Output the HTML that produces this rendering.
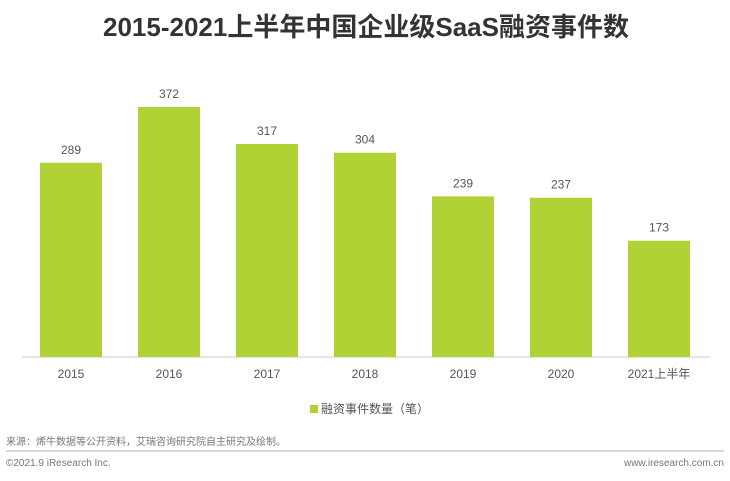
<!DOCTYPE html>
<html><head><meta charset="utf-8"><style>
body{margin:0;background:#fff;}
svg text{font-family:"Liberation Sans","Noto Sans CJK SC",sans-serif;}
</style></head><body>
<svg width="730" height="476" viewBox="0 0 730 476" xmlns="http://www.w3.org/2000/svg">
<text x="366" y="36" text-anchor="middle" font-size="26" font-weight="bold" fill="#333">2015-2021上半年中国企业级SaaS融资事件数</text>
<line x1="22" y1="357" x2="710" y2="357" stroke="#ddd" stroke-width="1.5"/>
<g id="bars"></g>
<rect x="310" y="405" width="8" height="8" fill="#b1d235"/>
<text x="321" y="413" font-size="12" fill="#555">融资事件数量（笔）</text>
<text x="6" y="445" font-size="10" fill="#777">来源：烯牛数据等公开资料，艾瑞咨询研究院自主研究及绘制。</text>
<line x1="6" y1="451" x2="724" y2="451" stroke="#ccc" stroke-width="1.5"/>
<text x="6" y="466" font-size="10" fill="#777">©2021.9 iResearch Inc.</text>
<text x="724" y="466" text-anchor="end" font-size="10" fill="#777">www.iresearch.com.cn</text>
</svg>
<script>
const categories=["2015","2016","2017","2018","2019","2020","2021上半年"];
const values=[289,372,317,304,239,237,173];
const g=document.getElementById('bars');
const NS='http://www.w3.org/2000/svg';
const base=357,scale=250/372,x0=71,step=98,bw=62;
function xPos(i){return x0+i*step;}
function yPos(v){return base-v*scale;}
categories.forEach((c,i)=>{
  const cx=xPos(i),y=yPos(values[i]);
  const r=document.createElementNS(NS,'rect');
  r.setAttribute('x',cx-bw/2);r.setAttribute('y',y);r.setAttribute('width',bw);r.setAttribute('height',base-y);r.setAttribute('fill','#b1d235');
  
  
  g.appendChild(r);
  const t=document.createElementNS(NS,'text');
  t.setAttribute('x',cx);t.setAttribute('y',y-9);t.setAttribute('text-anchor','middle');t.setAttribute('font-size','12');t.setAttribute('fill','#555');
  t.textContent=values[i];
  
  
  g.appendChild(t);
  const l=document.createElementNS(NS,'text');
  l.setAttribute('x',cx);l.setAttribute('y',378);l.setAttribute('text-anchor','middle');l.setAttribute('font-size','12');l.setAttribute('fill','#555');
  l.textContent=c;
  
  
  g.appendChild(l);
});
</script>
</body></html>
